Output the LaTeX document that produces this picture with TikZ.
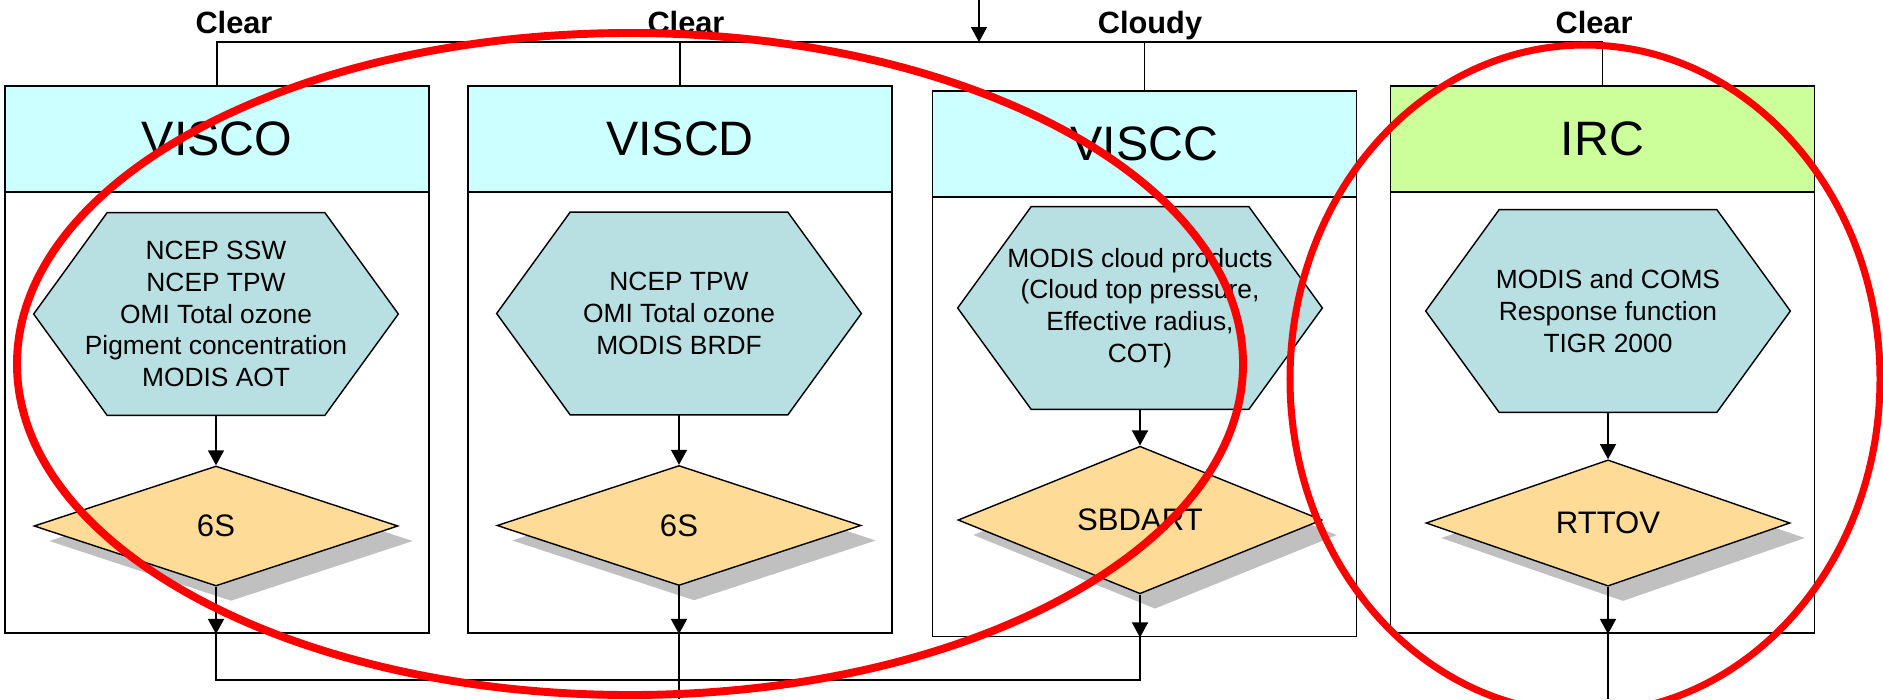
\documentclass[tikz,border=0pt]{standalone}
\usepackage{fontspec}
\setmainfont{Liberation Sans}
\usepackage{xcolor}
\usetikzlibrary{
  arrows.meta,
  positioning,
  shapes.geometric,
  shadows
}
\definecolor{rscyan}  {HTML}{CCFFFF}
\definecolor{rsgreen} {HTML}{CCFF99}
\definecolor{rsblue}  {HTML}{B8DFE2}
\definecolor{rsorange}{HTML}{FEDC98}
\definecolor{rsshadow}{HTML}{C0C0C0}
\definecolor{rsred}   {HTML}{FF0000}

\pgfdeclarelayer{boxes}
\pgfdeclarelayer{hexes}
\pgfsetlayers{boxes,hexes,main}

\begin{document}
\begin{tikzpicture}[
  x=0.2mm, y=-0.2mm,
  every node/.style={font=\fontsize{15}{18.1}\selectfont},
  hdr/.style={rectangle, draw, line width=1.1pt, fill=rscyan, inner sep=0pt,
              minimum width=84.8mm, minimum height=21.2mm,
              font=\fontsize{27.5}{33}\selectfont},
  body/.style={rectangle, draw, line width=1.1pt, fill=white, inner sep=0pt,
               minimum width=84.8mm, minimum height=88.2mm},
  inp/.style={rectangle, inner sep=0pt, align=center,
              minimum width=72.8mm, minimum height=40.4mm},
  hexline/.style={draw, line width=0.8pt, fill=rsblue},
  rtm/.style={diamond, draw, line width=0.8pt, fill=rsorange, inner sep=0pt,
              minimum width=72.8mm, minimum height=24mm,
              font=\fontsize{17.7}{21}\selectfont,
              drop shadow={shadow xshift=3mm, shadow yshift=-3mm,
                           fill=rsshadow, opacity=1}},
  arr/.style={-{Triangle[length=3mm, width=3.2mm]}, line width=0.8pt},
  bus/.style={line width=0.8pt},
  sky/.style={anchor=base, font=\fontsize{17.5}{21}\selectfont\bfseries},
  ring/.style={draw=rsred, line width=4.5pt},
]
\useasboundingbox (0,0) rectangle (1883,699);

% -- Sky condition labels -----------------------
\node[sky] (lblco) at (234,33)  {Clear};
\node[sky] (lblcd) at (686,33)  {Clear};
\node[sky] (lblcc) at (1150,33) {Cloudy};
\node[sky] (lblir) at (1594,33) {Clear};

% -- Column boxes -------------------------------
\begin{pgfonlayer}{boxes}
\node[body] (bodyco) at (217,412.5)   {};
\node[hdr]  (hdrco)  at (217,139)     {VISCO};
\node[body] (bodycd) at (680,412.5)   {};
\node[hdr]  (hdrcd)  at (680,139)     {VISCD};
\node[body] (bodycc) at (1144.5,416)  {};
\node[hdr]  (hdrcc)  at (1144.5,144)  {VISCC};
\node[body] (bodyir) at (1602.5,412.5) {};
\node[hdr, fill=rsgreen] (hdrir) at (1602.5,139) {IRC};
\end{pgfonlayer}

% -- Input data (hexagons) ----------------------
\node[inp] (inco) at (216,314)
  {NCEP SSW\\NCEP TPW\\OMI Total ozone\\Pigment concentration\\MODIS AOT};
\node[inp] (incd) at (679,313.5)
  {NCEP TPW\\OMI Total ozone\\MODIS BRDF};
\node[inp] (incc) at (1140,308)
  {MODIS cloud products\\(Cloud top pressure,\\Effective radius,\\COT)};
\node[inp] (inir) at (1608,311)
  {MODIS and COMS\\Response function\\TIGR 2000};

\begin{pgfonlayer}{hexes}
\foreach \n in {inco,incd,incc,inir}
  \draw[hexline] ([xshift=14.7mm]\n.north west) -- ([xshift=-14.7mm]\n.north east)
    -- (\n.east) -- ([xshift=-14.7mm]\n.south east)
    -- ([xshift=14.7mm]\n.south west) -- (\n.west) -- cycle;
\end{pgfonlayer}

% -- Radiative transfer models ------------------
\node[rtm] (rtco) at (216,526)   {6S};
\node[rtm] (rtcd) at (679,525.5) {6S};
\node[rtm] (rtcc) at (1140,520)  {SBDART};
\node[rtm] (rtir) at (1608,523)  {RTTOV};

% -- Top: split into four -----------------------
\coordinate (feed)  at (979,0);
\coordinate (split) at (979,42);
\draw[arr] (feed) -- (split);
\draw[bus] (hdrco.north) |- (split) -| (hdrir.north);
\draw[bus] (hdrcd.north) -- (hdrcd.north |- split);
\draw[bus] (hdrcc.north) -- (hdrcc.north |- split);

% -- Inside the columns -------------------------
\draw[arr] (inco) -- (rtco);
\draw[arr] (incd) -- (rtcd);
\draw[arr] (incc) -- (rtcc);
\draw[arr] (inir) -- (rtir);
\draw[arr] (rtco.south) -- (rtco.south |- bodyco.south);
\draw[arr] (rtcd.south) -- (rtcd.south |- bodycd.south);
\draw[arr] (rtcc.south) -- (rtcc.south |- bodycc.south);
\draw[arr] (rtir.south) -- (rtir.south |- bodyir.south);

% -- Bottom: merge and outputs ------------------
\coordinate (merge) at (679,680);
\coordinate (outcd) at (679,699);
\coordinate (outir) at (1608,699);
\draw[bus] (rtco.south |- bodyco.south) |- (merge)
  -| (rtcc.south |- bodycc.south);
\draw[bus] (rtcd.south |- bodycd.south) -- (outcd);
\draw[bus] (rtir.south |- bodyir.south) -- (outir);

% -- Red rings ----------------------------------
\draw[ring] (630,364) ellipse [x radius=122.6mm, y radius=66.2mm];
\draw[ring, line width=4pt] (1585,379) ellipse [x radius=59mm, y radius=66.8mm];

\end{tikzpicture}
\end{document}
